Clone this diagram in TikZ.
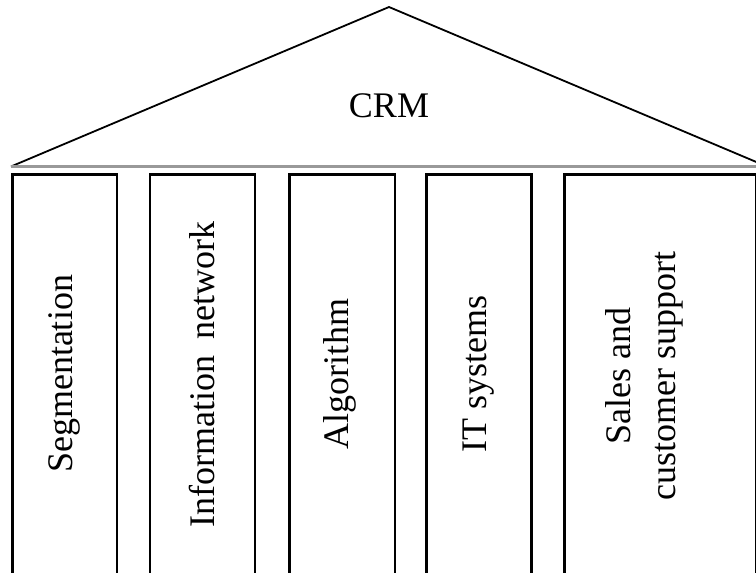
\documentclass[tikz,border=0pt]{standalone}
\usepackage{fontspec}
\setmainfont{Liberation Serif}
\begin{document}
\begin{tikzpicture}[x=1pt,y=-1pt,
  pillar/.style={draw=black,line width=2.6pt},
  roofline/.style={draw=black,line width=1.8pt,line join=miter},
  baseline/.style={draw=black!40,line width=2.6pt},
  lbl/.style={font=\fontsize{36}{44}\selectfont,inner sep=0pt,align=center},
  vlbl/.style={lbl,rotate=90}]
\useasboundingbox (0,0) rectangle (756,573);
\clip (0,0) rectangle (756,573);
% roof
\coordinate (rl) at (11,166.5);
\coordinate (ra) at (389,7);
\coordinate (rr) at (767,166.5);
\draw[roofline] (rl) -- (ra) -- (rr);
\draw[baseline] (rl) -- (rr);
\node[lbl] (crm) at (389,106) {CRM};
% pillars
\draw[pillar] (12.5,174.5) rectangle (117,574) coordinate (p1);
\draw[pillar] (150,174.5) rectangle (255,574) coordinate (p2);
\draw[pillar] (289.5,174.5) rectangle (395,574) coordinate (p3);
\draw[pillar] (426.5,174.5) rectangle (531.5,574) coordinate (p4);
\draw[pillar] (564.5,174.5) rectangle (756,574) coordinate (p5);
% labels
\node[vlbl] (seg) at (64.5,374) {Segmentation};
\node[vlbl] (inf) at (202,374.5) {Information\hspace{0.2em} network};
\node[vlbl] (alg) at (340,374) {Algorithm};
\node[vlbl] (its) at (479,374) {IT systems};
\node[vlbl] (sal) at (644,376) {Sales and\\[1pt]customer support};
\end{tikzpicture}
\end{document}
